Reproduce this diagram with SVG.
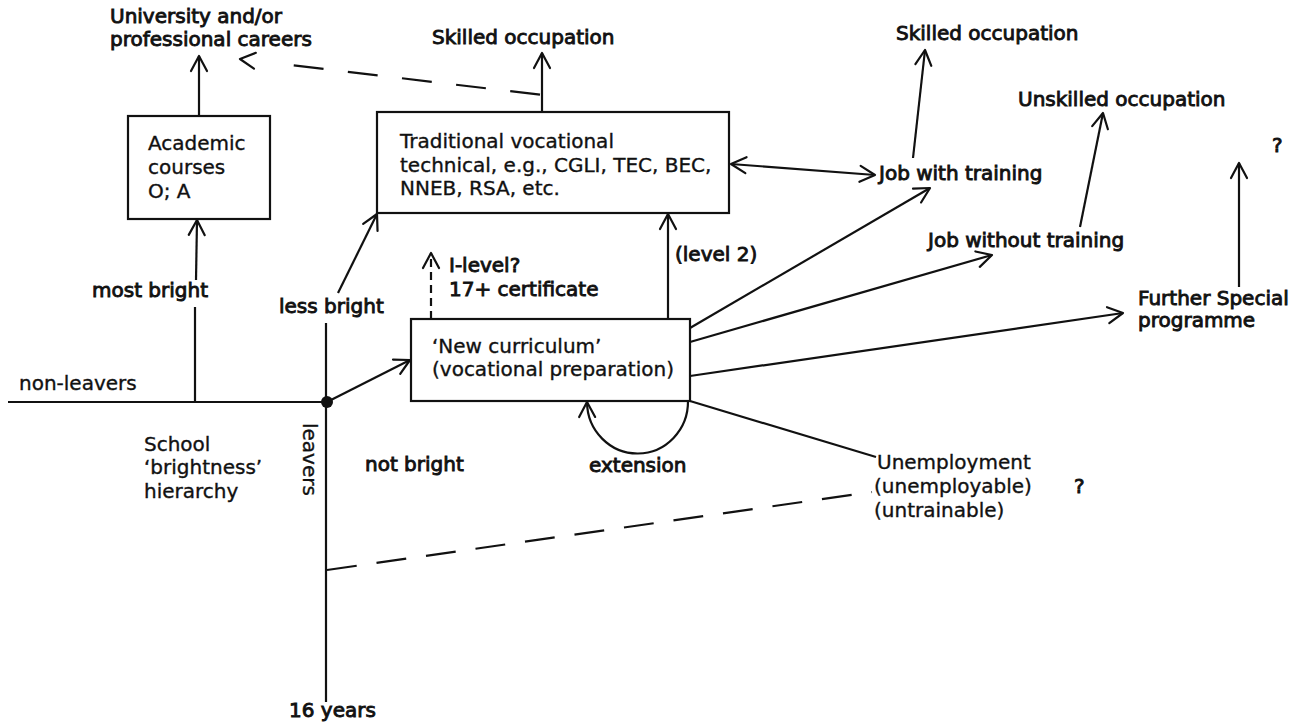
<svg xmlns="http://www.w3.org/2000/svg" width="1300" height="726" viewBox="0 0 1300 726">
<defs>
<marker id="ah" markerUnits="userSpaceOnUse" markerWidth="40" markerHeight="40" viewBox="-20 -20 40 40" refX="0" refY="0" orient="auto-start-reverse" overflow="visible">
<path d="M-15,-8 L0,0 L-15,8" fill="none" stroke="#111" stroke-width="2.2" stroke-linecap="round" stroke-linejoin="round"/>
</marker>
<style>
text{font-family:"DejaVu Sans","Liberation Sans",sans-serif;font-size:20px;fill:#111;stroke:#111;stroke-width:0.35}
text.b{stroke-width:0.9}
.box{fill:#fff;stroke:#111;stroke-width:2.2}
.ln{fill:none;stroke:#111;stroke-width:2.2}
.dash{stroke-dasharray:30 20}
.sdash{stroke-dasharray:8 5}
</style>
</defs>
<rect width="1300" height="726" fill="#fff"/>

<g id="connectors">
<line class="ln" x1="8" y1="402" x2="327" y2="402"/>
<line class="ln" x1="326" y1="323" x2="326" y2="702"/>
<circle cx="327" cy="402" r="6" fill="#111"/>
<line class="ln" x1="195" y1="401" x2="195" y2="307"/>
<line class="ln" x1="196" y1="280" x2="197" y2="220" marker-end="url(#ah)"/>
<line class="ln" x1="199" y1="116" x2="199" y2="56" marker-end="url(#ah)"/>
<line class="ln" x1="338" y1="293" x2="377" y2="214" marker-end="url(#ah)"/>
<line class="ln" x1="542" y1="112" x2="542" y2="53" marker-end="url(#ah)"/>
<path class="ln" d="M540,94.7 L292,65.2" stroke-dasharray="30 24.5"/>
<path d="M262,61.6 L240,59" fill="none" stroke="none" marker-end="url(#ah)"/>
<line class="ln" x1="327" y1="402" x2="410" y2="360" marker-end="url(#ah)"/>
<line class="ln sdash" x1="431" y1="319" x2="431" y2="253" marker-end="url(#ah)"/>
<line class="ln" x1="668" y1="319" x2="668" y2="214" marker-end="url(#ah)"/>
<line class="ln" x1="731" y1="164" x2="875" y2="175" marker-start="url(#ah)" marker-end="url(#ah)"/>
<line class="ln" x1="690" y1="328" x2="930" y2="188" marker-end="url(#ah)"/>
<line class="ln" x1="690" y1="342" x2="992" y2="255" marker-end="url(#ah)"/>
<line class="ln" x1="690" y1="376" x2="1123" y2="313" marker-end="url(#ah)"/>
<line class="ln" x1="690" y1="401" x2="876" y2="457"/>
<path class="ln" d="M688,401 A50.5,52 0 0 1 587,402" marker-end="url(#ah)"/>
<line class="ln" x1="913" y1="158" x2="925" y2="50" marker-end="url(#ah)"/>
<line class="ln" x1="1080" y1="227" x2="1103" y2="113" marker-end="url(#ah)"/>
<line class="ln" x1="1239" y1="287" x2="1239" y2="163" marker-end="url(#ah)"/>
<line class="ln dash" x1="327" y1="570" x2="872" y2="492"/>
</g>

<g id="academic">
<rect class="box" x="128" y="116" width="142" height="103"/>
<text x="148" y="150">Academic</text>
<text x="148" y="174">courses</text>
<text x="148" y="198">O; A</text>
</g>

<g id="traditional">
<rect class="box" x="377" y="112" width="352" height="101"/>
<text x="400" y="148">Traditional vocational</text>
<text x="400" y="172">technical, e.g., CGLI, TEC, BEC,</text>
<text x="400" y="195">NNEB, RSA, etc.</text>
</g>

<g id="new-curriculum">
<rect class="box" x="411" y="319" width="279" height="82"/>
<text x="432" y="353">‘New curriculum’</text>
<text x="432" y="376">(vocational preparation)</text>
</g>

<g id="university">
<text class="b" x="110" y="23">University and/or</text>
<text class="b" x="110" y="46">professional careers</text>
</g>

<g id="skilled-center">
<text class="b" x="432" y="44">Skilled occupation</text>
</g>

<g id="skilled-right">
<text class="b" x="896" y="40">Skilled occupation</text>
</g>

<g id="unskilled">
<text class="b" x="1018" y="106">Unskilled occupation</text>
</g>

<g id="job-with">
<text class="b" x="879" y="180">Job with training</text>
</g>

<g id="job-without">
<text class="b" x="928" y="247">Job without training</text>
</g>

<g id="further-special">
<text class="b" x="1138" y="305">Further Special</text>
<text class="b" x="1138" y="327">programme</text>
</g>

<g id="question-top">
<text class="b" x="1272" y="152">?</text>
</g>

<g id="unemployment">
<text x="877" y="469">Unemployment</text>
<text x="874" y="493">(unemployable)</text>
<text x="874" y="517">(untrainable)</text>
<text class="b" x="1074" y="493">?</text>
</g>

<g id="labels">
<text class="b" x="92" y="297">most bright</text>
<text class="b" x="279" y="313">less bright</text>
<text class="b" x="365" y="471">not bright</text>
<text class="b" x="589" y="472">extension</text>
<text class="b" x="675" y="261">(level 2)</text>
<text class="b" x="449" y="272">I-level?</text>
<text class="b" x="449" y="296">17+ certificate</text>
<text x="19" y="390">non-leavers</text>
<text x="144" y="451">School</text>
<text x="144" y="474">‘brightness’</text>
<text x="144" y="498">hierarchy</text>
<text transform="translate(303,423) rotate(90)">leavers</text>
<text class="b" x="289" y="717">16 years</text>
</g>
</svg>
